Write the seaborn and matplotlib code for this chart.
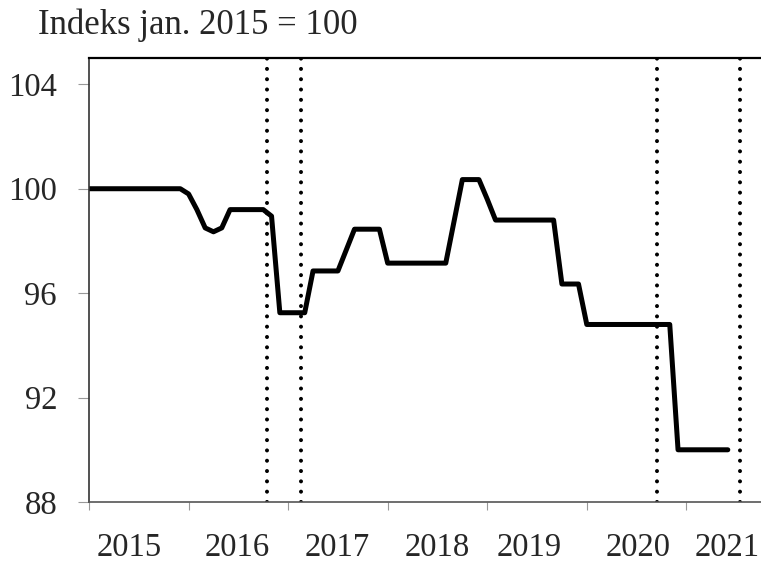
"""
Price index chart, January 2015 = 100, with event markers.
"""

import matplotlib
matplotlib.use('Agg')  # no display
import matplotlib.pyplot as plt  # noqa: E402
import seaborn as sns  # noqa: E402
import pandas as pd  # noqa: E402

# months counted from January 2015 (0 = jan. 2015)
months = list(range(78))
index_values = [
    100.0, 100.0, 100.0, 100.0, 100.0, 100.0, 100.0, 100.0, 100.0, 100.0,
    100.0, 100.0, 99.8, 99.2, 98.5, 98.35, 98.5, 99.2, 99.2, 99.2,
    99.2, 99.2, 98.95, 95.25, 95.25, 95.25, 95.25, 96.85, 96.85, 96.85,
    96.85, 97.65, 98.45, 98.45, 98.45, 98.45, 97.15, 97.15, 97.15, 97.15,
    97.15, 97.15, 97.15, 97.15, 98.75, 100.35, 100.35, 100.35, 99.6, 98.8,
    98.8, 98.8, 98.8, 98.8, 98.8, 98.8, 98.8, 96.35, 96.35, 96.35,
    94.8, 94.8, 94.8, 94.8, 94.8, 94.8, 94.8, 94.8, 94.8, 94.8,
    94.8, 90.0, 90.0, 90.0, 90.0, 90.0, 90.0, 90.0,
]
event_months = [21.5, 25.5, 68.5, 78.5]

year_labels = ['2015', '2016', '2017', '2018', '2019', '2020', '2021']
year_starts = [0, 12, 24, 36, 48, 60, 72]
y_ticks = [88, 92, 96, 100, 104]

title = 'Indeks jan. 2015 = 100'

# label spots under the axis (as placed in the original)
label_spots = [4.8, 17.9, 29.9, 42.0, 53.0, 66.2, 76.9]

sns.set_theme(style='white')
plt.rcParams['font.family'] = ['Liberation Serif', 'DejaVu Serif']

df = pd.DataFrame({'month': months, 'index': index_values})

fig = plt.figure(figsize=(7.61, 5.65), dpi=100)
ax = fig.add_axes([0.117, 0.1115, 0.883, 0.7855])

sns.lineplot(data=df, x='month', y='index', color='black',
             linewidth=3.6, ax=ax)

for m in event_months:
    ax.axvline(m, color='black', linewidth=2.9,
               linestyle=(0, (0.01, 2.55)), dash_capstyle='round')

ax.set_xlim(0, 81)
ax.set_ylim(88, 105)

ax.set_yticks(y_ticks)
ax.set_yticklabels([str(v) for v in y_ticks])
ax.tick_params(axis='y', which='major', length=8, width=0.8,
               color='#999999', pad=15, labelsize=23.5, left=True)

ax.set_xticks(year_starts)
ax.set_xticklabels([''] * len(year_starts))
ax.tick_params(axis='x', which='major', length=6, width=0.8,
               color='#999999', bottom=True)
ax.set_xticks(label_spots, minor=True)
ax.set_xticklabels(year_labels, minor=True)
ax.tick_params(axis='x', which='minor', length=0, pad=22, labelsize=23.5)

ax.set_xlabel('')
ax.set_ylabel('')

ax.spines['right'].set_visible(False)
ax.spines['top'].set_color('black')
ax.spines['top'].set_linewidth(1.6)
ax.spines['left'].set_color('#333333')
ax.spines['left'].set_linewidth(1.2)
ax.spines['bottom'].set_color('#555555')
ax.spines['bottom'].set_linewidth(1.2)

fig.text(0.05, 0.94, title, fontsize=25, ha='left', va='baseline')

fig.savefig('out.png', dpi=100)
plt.close(fig)
